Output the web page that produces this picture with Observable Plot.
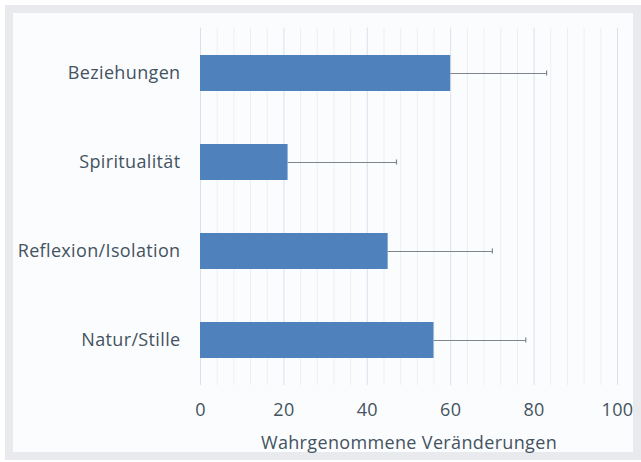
<!DOCTYPE html>
<html><head><meta charset="utf-8">
<script src="https://cdn.jsdelivr.net/npm/d3@7"></script>
<script src="https://cdn.jsdelivr.net/npm/@observablehq/plot@0.6"></script>
<style>
html,body{margin:0;padding:0;background:#fff;}
#wrap{position:relative;width:641px;height:462px;overflow:hidden;}
#frame{position:absolute;left:5px;top:5px;width:620px;height:439px;border:8px solid #e9eaed;background:#fbfcfe;}
#chart{position:absolute;left:0;top:0;}
#chart svg text{letter-spacing:0.35px;}
</style></head>
<body>
<div id="wrap"><div id="frame"></div><div id="chart"></div></div>
<script>
const categories = ["Beziehungen", "Spiritualität", "Reflexion/Isolation", "Natur/Stille"];
const means = [60, 21, 45, 56];
const upper = [83, 47, 70, 78];
const majorTicks = [0, 20, 40, 60, 80, 100];
const minorTicks = [4, 8, 12, 16, 24, 28, 32, 36, 44, 48, 52, 56, 64, 68, 72, 76, 84, 88, 92, 96];

const data = categories.map((c, i) => ({cat: c, mean: means[i], up: upper[i]}));
const font = "'Open Sans', sans-serif";

const plot = Plot.plot({
  width: 641, height: 462,
  marginLeft: 200, marginRight: 24, marginTop: 27.5, marginBottom: 77,
  style: {background: "transparent", fontFamily: font, fontSize: "18px", color: "#44535f"},
  x: {domain: [0, 100], ticks: majorTicks, tickSize: 0, tickPadding: 18, label: "Wahrgenommene Veränderungen", labelAnchor: "center", labelArrow: "none", labelOffset: 63},
  y: {domain: categories, paddingInner: 0.6, paddingOuter: 0.3, tickSize: 0, tickPadding: 20, label: null},
  marks: [
    Plot.ruleX(minorTicks, {stroke: "#ebeff5", strokeWidth: 1}),
    Plot.ruleX(majorTicks, {stroke: "#dae1ec", strokeWidth: 1}),
    Plot.barX(data, {x: "mean", y: "cat", fill: "#4f81bd"}),
    Plot.ruleY(data, {x1: "mean", x2: "up", y: "cat", stroke: "#7f858c", strokeWidth: 1}),
    Plot.tickX(data, {x: "up", y: "cat", stroke: "#7f858c", strokeWidth: 1.2, inset: 15.5})
  ]
});
document.getElementById("chart").appendChild(plot);
</script>
</body></html>
